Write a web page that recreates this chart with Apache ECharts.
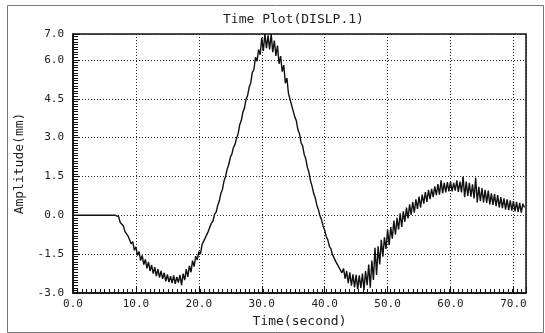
<!DOCTYPE html>
<html>
<head>
<meta charset="utf-8">
<script src="https://cdn.jsdelivr.net/npm/echarts@6/dist/echarts.min.js"></script>
<style>html,body{margin:0;padding:0;background:#fff;}#c{width:545px;height:333px;}</style>
</head>
<body>
<div id="c"></div>
<script>
// ---- data ----
const titleText = 'Time Plot(DISLP.1)';
const xName = 'Time(second)';
const yName = 'Amplitude(mm)';
const xTicks = [0, 10, 20, 30, 40, 50, 60, 70];
const yTicks = [-3, -1.5, 0, 1.5, 3, 4.5, 6, 7];
// quiet lead-in segment (time, value)
const leadTimes = [0, 3.5, 6.75];
const leadValues = [0, 0, 0];
// sampled record, starting at 7.0 s, every 0.25 s
const sampleStart = 7.0;
const sampleStep = 0.25;
const sampleValues = [
  0.00,-0.05,-0.28,-0.25,  -0.40,-0.62,-0.58,-0.80,  -0.80,-1.10,-1.02,-1.35,
 -1.22,-1.55,-1.40,-1.75,  -1.55,-1.90,-1.70,-2.05,  -1.80,-2.15,-1.92,-2.25,
 -2.00,-2.35,-2.08,-2.40,  -2.15,-2.45,-2.22,-2.55,  -2.28,-2.58,-2.35,-2.62,
 -2.32,-2.65,-2.38,-2.60,  -2.30,-2.70,-2.25,-2.50,  -2.08,-2.38,-1.95,-2.20,
 -1.75,-1.98,-1.58,-1.72,  -1.40,-1.50,-1.14,-1.20,  -0.88,-0.85,-0.62,-0.55,
 -0.30,-0.22, 0.04, 0.12,   0.38, 0.55, 0.84, 1.00,   1.32, 1.50, 1.78, 1.95,
  2.24, 2.36, 2.62, 2.74,   2.98, 3.15, 3.50, 3.66,   3.98, 4.14, 4.48, 4.62,
  4.95, 5.10, 5.52, 5.62,   6.10, 5.95, 6.40, 6.20,   6.85, 6.35, 7.00, 6.45,
  6.95, 6.40, 7.00, 6.30,   6.75, 6.15, 6.55, 5.85,   6.15, 5.55, 5.80, 5.10,
  5.30, 4.70, 4.75, 4.25,   4.18, 3.80, 3.65, 3.30,   3.15, 2.80, 2.68, 2.35,
  2.18, 1.85, 1.66, 1.33,   1.12, 0.85, 0.68, 0.40,   0.22,-0.02,-0.17,-0.42,
 -0.57,-0.82,-0.95,-1.20,  -1.30,-1.52,-1.56,-1.78,  -1.78,-2.00,-1.95,-2.22,
 -2.05,-2.45,-2.15,-2.62,  -2.20,-2.72,-2.28,-2.78,  -2.30,-2.85,-2.32,-2.80,
 -2.25,-2.88,-2.15,-2.70,  -1.90,-2.80,-1.75,-2.50,  -1.25,-2.30,-1.20,-1.90,
 -0.95,-1.60,-0.85,-1.30,  -0.55,-1.15,-0.45,-0.90,  -0.20,-0.75,-0.10,-0.55,
  0.08,-0.45, 0.15,-0.25,   0.30,-0.12, 0.42, 0.02,   0.52, 0.10, 0.62, 0.25,
  0.72, 0.30, 0.80, 0.45,   0.90, 0.52, 0.98, 0.62,   1.02, 0.70, 1.12, 0.78,
  1.20, 0.80, 1.35, 0.85,   1.25, 0.88, 1.28, 0.92,   1.30, 0.92, 1.25, 0.95,
  1.35, 0.90, 1.30, 0.88,   1.50, 0.70, 1.30, 0.75,   1.25, 0.72, 1.20, 0.65,
  1.45, 0.50, 1.10, 0.55,   1.05, 0.50, 0.98, 0.48,   0.95, 0.42, 0.85, 0.40,
  0.82, 0.35, 0.78, 0.30,   0.70, 0.28, 0.65, 0.22,   0.62, 0.20, 0.58, 0.18,
  0.55, 0.15, 0.52, 0.12,   0.48, 0.10, 0.45, 0.30
];

const series = [];
for (let i = 0; i < leadTimes.length; i++) series.push([leadTimes[i], leadValues[i]]);
for (let i = 0; i < sampleValues.length; i++) series.push([sampleStart + i * sampleStep, sampleValues[i]]);

const FONT = 'DejaVu Sans Mono';
const chart = echarts.init(document.getElementById('c'), null, {renderer: 'canvas'});
chart.setOption({
  animation: false,
  backgroundColor: '#fff',
  title: {
    text: titleText, left: 218, top: 8,
    textStyle: {fontFamily: FONT, fontSize: 13, fontWeight: 'normal', color: '#222'}
  },
  graphic: [{
    type: 'rect', left: 5, top: 3, shape: {width: 536, height: 327},
    style: {fill: 'none', stroke: '#777', lineWidth: 1}, silent: true
  }],
  grid: {left: 73, top: 34, right: 19, bottom: 40, show: true, borderColor: '#111', borderWidth: 1.5, backgroundColor: 'transparent'},
  xAxis: [{
    type: 'value', min: 0, max: 72, interval: 10,
    name: xName, nameLocation: 'middle', nameGap: 21,
    nameTextStyle: {fontFamily: FONT, fontSize: 13, color: '#222'},
    axisLine: {show: true, onZero: false, lineStyle: {color: '#111', width: 1.5}},
    axisTick: {show: true, inside: true, length: 6, lineStyle: {color: '#111'}},
    axisLabel: {fontFamily: FONT, fontSize: 11, color: '#222', margin: 6,
      formatter: v => (xTicks.indexOf(v) >= 0 ? v.toFixed(1) : '')},
    splitLine: {show: true, lineStyle: {color: '#222', type: [1, 2], width: 1}}
  }, {
    type: 'value', min: 0, max: 100, interval: 1, position: 'bottom',
    axisLine: {show: false, onZero: false}, axisLabel: {show: false}, splitLine: {show: false},
    axisTick: {show: true, inside: true, length: 4, lineStyle: {color: '#111'}}
  }],
  yAxis: [{
    type: 'value', min: -3, max: 7, interval: 1.5,
    name: yName, nameLocation: 'middle', nameGap: 37, nameRotate: 90,
    nameTextStyle: {fontFamily: FONT, fontSize: 13, color: '#222'},
    axisLine: {show: true, onZero: false, lineStyle: {color: '#111', width: 1.5}},
    axisTick: {show: true, inside: true, length: 6, lineStyle: {color: '#111'}},
    axisLabel: {fontFamily: FONT, fontSize: 11, color: '#222', margin: 9,
      formatter: v => (yTicks.indexOf(v) >= 0 ? v.toFixed(1) : '')},
    splitLine: {show: true, lineStyle: {color: '#222', type: [1, 2], width: 1}}
  }, {
    type: 'value', min: 0, max: 100, interval: 1, position: 'left',
    axisLine: {show: false, onZero: false}, axisLabel: {show: false}, splitLine: {show: false},
    axisTick: {show: true, inside: true, length: 5, lineStyle: {color: '#111'}}
  }],
  series: [{
    type: 'line', xAxisIndex: 0, yAxisIndex: 0, data: series,
    showSymbol: false, symbol: 'none', smooth: false,
    lineStyle: {color: '#111', width: 1.4}
  }]
});
</script>
</body>
</html>
